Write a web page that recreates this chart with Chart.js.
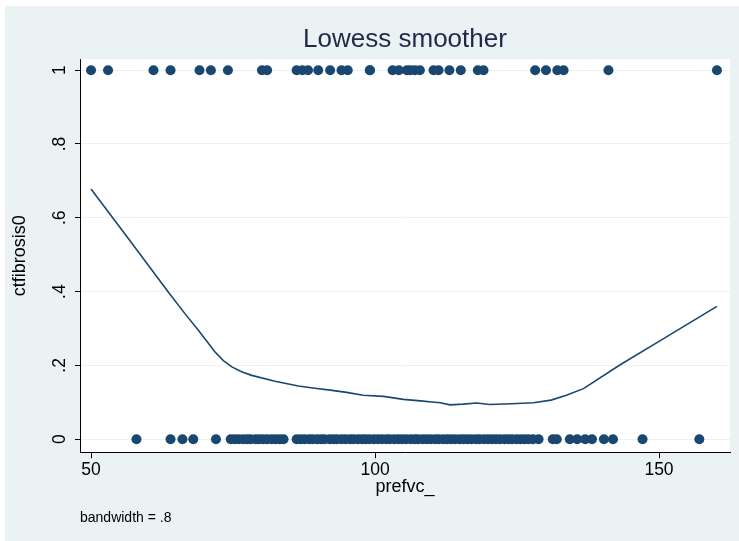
<!DOCTYPE html>
<html><head><meta charset="utf-8">
<script src="https://cdn.jsdelivr.net/npm/chart.js@4.4.1/dist/chart.umd.min.js"></script>
<style>html,body{margin:0;padding:0;background:#fff;} #wrap{position:absolute;left:0;top:0;width:739px;height:541px;}</style>
</head><body><div id="wrap"><canvas id="c"></canvas></div>
<script>
// ---- data ----
const titleText = 'Lowess smoother';
const xTitle = 'prefvc_';
const yTitle = 'ctfibrosis0';
const noteText = 'bandwidth = .8';
const xTickValues = [50, 100, 150];
const xTickLabels = ['50', '100', '150'];
const yTickValues = [0, 0.2, 0.4, 0.6, 0.8, 1];
const yTickLabels = ['0', '.2', '.4', '.6', '.8', '1'];

// prefvc_ of observations with ctfibrosis0 = 1
const xOnes = [50.0, 53.0, 61.0, 64.0, 69.1, 71.1, 74.1, 80.1, 81.0, 86.2, 87.2, 88.2, 90.0, 92.1, 94.1, 95.2, 99.1, 99.1,
  103.1, 104.2, 105.6, 106.2, 107.0, 107.9, 110.3, 111.2, 113.1, 115.1, 118.1, 119.1, 128.2, 130.1, 132.1, 133.2, 141.1, 160.2];
// prefvc_ of observations with ctfibrosis0 = 0
const xZeros = [58.0, 64.0, 66.1, 68.0, 72.0, 74.6, 75.3, 76.0, 76.8, 77.5, 78.1, 79.0, 79.6, 80.3, 81.0, 81.8, 82.5, 83.2, 83.9,
  86.2, 86.9, 87.6, 88.4, 89.0, 89.8, 90.5, 91.1, 92.0, 92.7, 93.3, 94.1, 94.8, 95.6, 96.2, 97.0, 97.7, 98.3, 99.0, 99.8,
  100.5, 101.2, 102.0, 102.6, 103.4, 104.1, 104.8, 105.5, 106.3, 107.0, 107.6, 108.4, 109.1, 109.8, 110.6, 111.2, 112.0,
  112.7, 113.4, 114.1, 114.9, 115.6, 116.3, 117.0, 117.8, 118.4, 119.2, 119.9, 120.6, 121.3, 122.0, 122.8, 123.5, 124.1,
  124.9, 125.6, 126.3, 127.0, 127.8, 128.8, 131.3, 132.0, 134.3, 135.6, 137.0, 138.2, 140.3, 141.9, 147.1, 157.1];
// lowess curve
const lowessX = [50.0, 56.6, 63.6, 66.5, 68.9, 71.8, 73.3, 74.8, 76.5, 78.3, 82.4, 86.5, 89.4, 92.1, 95.0, 97.9, 101.5, 105.0,
  106.5, 108.0, 110.0, 111.5, 113.2, 115.5, 117.9, 120.2, 124.0, 127.9, 131.0, 133.7, 136.7, 143.1, 150.0, 160.2];
const lowessY = [0.678, 0.543, 0.399, 0.341, 0.295, 0.237, 0.213, 0.196, 0.183, 0.173, 0.157, 0.144, 0.138, 0.133, 0.127, 0.119,
  0.116, 0.108, 0.106, 0.104, 0.101, 0.099, 0.093, 0.095, 0.098, 0.094, 0.096, 0.099, 0.106, 0.119, 0.137, 0.201, 0.265, 0.360];

// ---- styling ----
const FONT = "'Liberation Sans', Arial, Helvetica, sans-serif";
const NAVY = '#1a476f';
const BG = '#eaf2f3';

const pts = xOnes.map(x => ({x: x, y: 1})).concat(xZeros.map(x => ({x: x, y: 0})));
const curve = lowessX.map((x, i) => ({x: x, y: lowessY[i]}));

const bgPlugin = {
  id: 'bg',
  beforeDraw(chart) {
    const {ctx, chartArea: a} = chart;
    ctx.save();
    ctx.fillStyle = '#ffffff';
    ctx.fillRect(0, 0, chart.width, chart.height);
    ctx.fillStyle = BG;
    ctx.fillRect(5, 6, chart.width - 5, chart.height - 6);
    ctx.fillStyle = '#ffffff';
    ctx.fillRect(a.left, a.top, a.right - a.left, a.bottom - a.top);
    ctx.restore();
  }
};
const yLabelPlugin = {
  id: 'ylabels',
  afterDraw(chart) {
    const ys = chart.scales.y;
    const ctx = chart.ctx;
    ctx.save();
    ctx.font = '17.5px ' + FONT;
    ctx.fillStyle = '#000';
    ctx.textAlign = 'center';
    ctx.textBaseline = 'alphabetic';
    yTickValues.forEach((v, i) => {
      const py = ys.getPixelForValue(v);
      ctx.save();
      ctx.translate(ys.right - 15, py);
      ctx.rotate(-Math.PI / 2);
      ctx.fillText(yTickLabels[i], 0, 0);
      ctx.restore();
    });
    ctx.restore();
  }
};

new Chart(document.getElementById('c'), {
  type: 'scatter',
  data: {
    datasets: [
      {data: pts, pointRadius: 5, pointHoverRadius: 5, backgroundColor: NAVY, borderWidth: 0, order: 2},
      {type: 'line', data: curve, borderColor: NAVY, borderWidth: 1.6, pointRadius: 0, tension: 0, fill: false, order: 1}
    ]
  },
  options: {
    responsive: true, maintainAspectRatio: false, animation: false, devicePixelRatio: 1,
    layout: {padding: {left: 0, right: 9, top: 0, bottom: 7}},
    plugins: {
      legend: {display: false}, tooltip: {enabled: false},
      title: {display: true, text: titleText, fullSize: false, color: '#1f2a4a',
        font: {family: FONT, size: 26, weight: 'normal'}, padding: {top: 24, bottom: 4}},
      subtitle: {display: true, text: noteText, position: 'bottom', align: 'start', fullSize: false, color: '#000',
        font: {family: FONT, size: 14, weight: 'normal'}, padding: {top: 10, bottom: 7}}
    },
    scales: {
      x: {
        type: 'linear', min: 48.06, max: 162.5,
        afterBuildTicks: s => { s.ticks = xTickValues.map(v => ({value: v})); },
        afterFit: s => { s.height = 48; },
        grid: {drawOnChartArea: false, drawTicks: true, tickLength: 6, tickColor: '#000', color: '#000'},
        border: {display: true, color: '#000', width: 1},
        ticks: {color: '#000', font: {family: FONT, size: 17.5}, padding: 1, maxRotation: 0,
          callback: (v) => { const i = xTickValues.indexOf(v); return i >= 0 ? xTickLabels[i] : ''; }},
        title: {display: true, text: xTitle, color: '#000', font: {family: FONT, size: 18}, padding: {top: 0, bottom: 2}}
      },
      y: {
        type: 'linear', min: -0.0352, max: 1.0298,
        afterBuildTicks: s => { s.ticks = yTickValues.map(v => ({value: v})); },
        afterFit: s => { s.width = 80; },
        grid: {color: BG, lineWidth: 1, drawTicks: true, tickLength: 5, tickColor: '#000'},
        border: {display: true, color: '#000', width: 1},
        ticks: {display: false},
        title: {display: true, text: yTitle, color: '#000', font: {family: FONT, size: 18}, padding: {top: 9, bottom: 0}}
      }
    }
  },
  plugins: [bgPlugin, yLabelPlugin]
});
</script></body></html>
